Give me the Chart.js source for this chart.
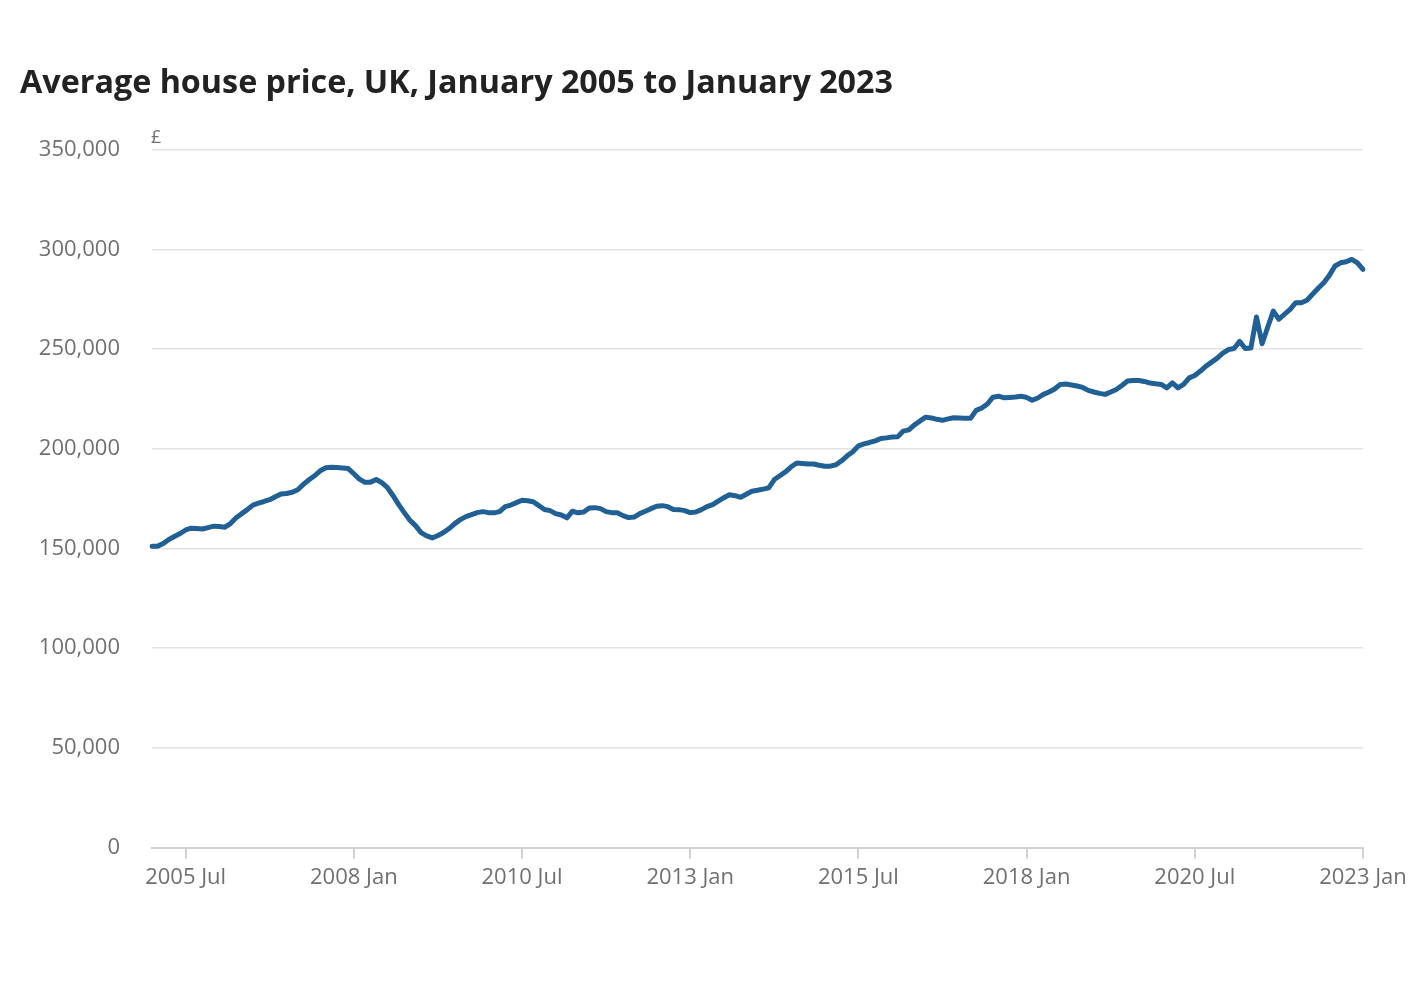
<!DOCTYPE html>
<html>
<head>
<meta charset="utf-8">
<script src="https://cdn.jsdelivr.net/npm/chart.js@4.4.0/dist/chart.umd.min.js"></script>
<style>
  html, body { margin: 0; padding: 0; background: #ffffff; }
  #wrap { position: relative; width: 1420px; height: 1000px; }
  canvas { display: block; }
</style>
</head>
<body>
<div id="wrap"><canvas id="c" width="1420" height="1000"></canvas></div>
<script>
// Chart text
const chartTitle = "Average house price, UK, January 2005 to January 2023";
const yUnit = "£";

// Categories: months from January 2005 to January 2023
const monthNames = ["Jan","Feb","Mar","Apr","May","Jun","Jul","Aug","Sep","Oct","Nov","Dec"];
const years = [2005,2006,2007,2008,2009,2010,2011,2012,2013,2014,2015,2016,2017,2018,2019,2020,2021,2022,2023];
const months = [];
for (const yr of years) {
  for (const mn of monthNames) {
    months.push(yr + " " + mn);
    if (yr === 2023) break;
  }
}

// Tick labels shown on the x axis
const xTickLabels = ["2005 Jul","2008 Jan","2010 Jul","2013 Jan","2015 Jul","2018 Jan","2020 Jul","2023 Jan"];
const yTickValues = [0,50000,100000,150000,200000,250000,300000,350000];

// Average house price (£), monthly (thousands)
const price2005 = [151.1,151.2,152.5,154.5,156.0,157.5,159.3,160.2,160.0,159.8,160.5,161.2];
const price2006 = [161.0,160.7,162.5,165.4,167.5,169.5,171.8,172.8,173.6,174.5,176.0,177.4];
const price2007 = [177.6,178.2,179.5,182.2,184.5,186.5,189.0,190.5,190.8,190.6,190.4,190.1];
const price2008 = [187.5,184.8,183.2,183.3,184.6,183.0,180.5,176.5,172.0,168.0,164.2,161.5];
const price2009 = [158.0,156.3,155.3,156.5,158.0,160.0,162.5,164.5,166.0,167.0,168.0,168.5];
const price2010 = [168.0,167.9,168.5,171.0,171.8,173.0,174.2,174.0,173.5,171.5,169.6,169.0];
const price2011 = [167.5,166.8,165.4,168.7,167.9,168.3,170.3,170.5,170.0,168.5,168.0,167.9];
const price2012 = [166.5,165.5,165.8,167.5,168.7,170.0,171.2,171.5,171.0,169.6,169.5,169.0];
const price2013 = [168.0,168.3,169.5,171.0,172.0,173.8,175.5,177.0,176.5,175.7,177.2,178.7];
const price2014 = [179.2,179.8,180.4,184.6,186.5,188.5,191.0,192.9,192.7,192.4,192.4,191.8];
const price2015 = [191.3,191.3,192.0,194.0,196.5,198.5,201.5,202.5,203.2,204.0,205.2,205.5];
const price2016 = [205.9,206.0,208.9,209.5,212.0,214.0,215.9,215.5,214.8,214.3,215.0,215.6];
const price2017 = [215.5,215.4,215.3,219.3,220.5,222.5,225.9,226.4,225.6,225.8,226.0,226.4];
const price2018 = [225.8,224.4,225.5,227.3,228.5,230.0,232.3,232.5,232.0,231.5,230.8,229.3];
const price2019 = [228.5,227.8,227.3,228.5,229.8,231.8,234.0,234.3,234.3,233.8,233.0,232.6];
const price2020 = [232.3,230.6,233.1,230.6,232.3,235.6,236.8,239.0,241.5,243.5,245.5,248.0];
const price2021 = [249.8,250.3,253.9,250.3,250.6,266.1,252.7,261.0,269.1,265.0,267.5,270.0];
const price2022 = [273.3,273.3,274.5,277.5,280.5,283.3,287.0,291.7,293.3,293.8,295.0,293.3];
const price2023 = [290.0];

const priceThousands = [].concat(price2005,price2006,price2007,price2008,price2009,price2010,
  price2011,price2012,price2013,price2014,price2015,price2016,price2017,price2018,price2019,
  price2020,price2021,price2022,price2023);
const prices = priceThousands.map(v => v * 1000);

const fontFamily = "'Open Sans', 'Noto Sans', sans-serif";

const unitPlugin = {
  id: 'unitLabel',
  afterDraw(chart) {
    const ctx = chart.ctx;
    const area = chart.chartArea;
    ctx.save();
    ctx.font = "18px " + fontFamily;
    ctx.fillStyle = "#707070";
    ctx.textAlign = "left";
    ctx.textBaseline = "alphabetic";
    ctx.fillText(yUnit, area.left - 1, area.top - 7);
    ctx.restore();
  }
};

new Chart(document.getElementById('c'), {
  type: 'line',
  data: {
    labels: months,
    datasets: [{
      label: 'Average house price',
      data: prices,
      borderColor: '#206095',
      borderWidth: 5,
      pointRadius: 0,
      tension: 0,
      borderJoinStyle: 'round',
      borderCapStyle: 'round',
      fill: false
    }]
  },
  options: {
    responsive: false,
    animation: false,
    devicePixelRatio: 1,
    layout: { padding: { left: 20, right: 57, top: 20, bottom: 103 } },
    plugins: {
      legend: { display: false },
      tooltip: { enabled: false },
      title: {
        display: true,
        text: chartTitle,
        align: 'start',
        color: '#222222',
        font: { family: fontFamily, size: 32.3, weight: 'bold' },
        padding: { top: 44, bottom: 47 }
      }
    },
    scales: {
      x: {
        type: 'category',
        offset: false,
        afterBuildTicks(scale) {
          scale.ticks = scale.ticks.filter(t => xTickLabels.includes(months[t.value]));
        },
        ticks: {
          autoSkip: false,
          maxRotation: 0,
          color: '#707070',
          font: { family: fontFamily, size: 22 },
          padding: 6,
          callback(value) { return months[value]; }
        },
        grid: {
          drawOnChartArea: false,
          drawTicks: true,
          tickLength: 11,
          color: '#cfd3d8',
          lineWidth: 2
        },
        border: { display: true, color: '#cfd3d8', width: 2 }
      },
      y: {
        min: 0,
        max: 350000,
        afterBuildTicks(scale) {
          scale.ticks = yTickValues.map(v => ({ value: v }));
        },
        afterFit(scale) { scale.width = 132; },
        ticks: {
          color: '#707070',
          font: { family: fontFamily, size: 22 },
          padding: 32,
          callback(value) { return value.toLocaleString('en-GB'); }
        },
        grid: {
          drawTicks: false,
          color: '#e3e3e3',
          lineWidth: 1.5
        },
        border: { display: false }
      }
    }
  },
  plugins: [unitPlugin]
});
</script>
</body>
</html>
